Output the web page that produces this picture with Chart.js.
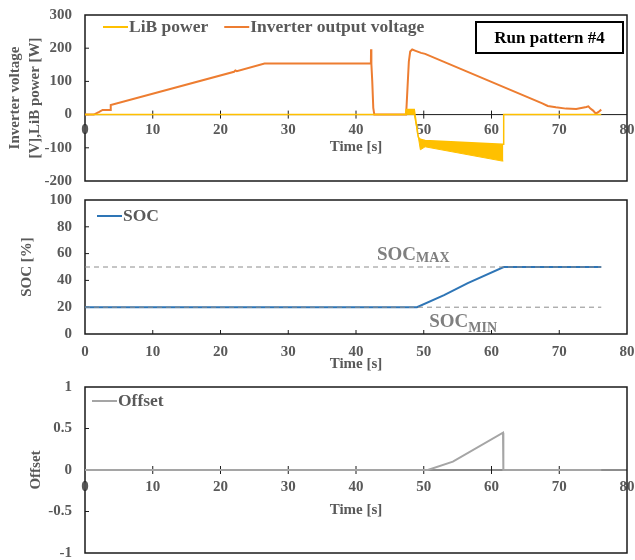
<!DOCTYPE html>
<html>
<head>
<meta charset="utf-8">
<script src="https://cdn.jsdelivr.net/npm/chart.js@4.4.1/dist/chart.umd.min.js"></script>
<style>
  html, body { margin: 0; padding: 0; background: #fff; }
  body { position: relative; width: 635px; height: 560px; overflow: hidden; }
  canvas { position: absolute; left: 0; }
  #powerChart { top: 0; }
  #socChart { top: 190px; }
  #offsetChart { top: 375px; }
</style>
</head>
<body>
<canvas id="powerChart" width="635" height="190"></canvas>
<canvas id="socChart" width="635" height="183"></canvas>
<canvas id="offsetChart" width="635" height="185"></canvas>
<script>
// tick labels
const timeTicks = [0, 10, 20, 30, 40, 50, 60, 70, 80];
const powerTicks = [-200, -100, 0, 100, 200, 300];
const socTicks = [0, 20, 40, 60, 80, 100];
const offsetTicks = [-1, -0.5, 0, 0.5, 1];

// LiB power, upper edge of the ripple band
const libTime = [0, 47.3, 47.4, 48.6, 49.2, 49.5, 50.2, 61.6, 61.75, 61.8, 76.2];
const libPower = [0, 0, 15, 15, -68, -74, -78, -89, -89, 0, 0];
// LiB power, lower edge of the ripple band
const libLowTime = [47.4, 48.6, 49.2, 49.5, 50.2, 61.6, 61.75];
const libPowerLow = [0, 0, -68, -106, -97, -140, -140];

// inverter output voltage
const invTime = [0, 1.3, 2.1, 2.6, 3.7, 3.8, 22.0, 22.2, 22.4, 26.5, 42.2, 42.22, 42.27, 42.4,
  42.55, 42.7, 47.4, 47.6, 47.8, 48.0, 48.3, 48.8, 49.6, 50.2, 67.5, 68.3, 69.5, 71, 72.5,
  74.0, 74.3, 74.6, 75.0, 75.4, 75.8, 76.2];
const inverterVoltage = [0, 0, 8, 14, 14, 29, 129, 133, 131, 154, 154, 197, 152, 100,
  20, 0, 0, 80, 160, 190, 196, 192, 186, 183, 34, 26, 22, 18, 17,
  23, 25, 18, 12, 3, 8, 15];

// state of charge and its limits
const socTime = [0, 49, 53, 56.5, 61.8, 76.2];
const socValues = [20, 20, 29, 38, 50, 50];
const socLimitTime = [0, 76.2];
const socMax = [50, 50];
const socMin = [20, 20];

// offset
const offsetTime = [0, 50.6, 54.3, 61.7, 61.75, 76.2];
const offsetValues = [0, 0, 0.1, 0.45, 0, 0];

const GREY = '#595959';
const SERIF = '"Liberation Serif", "Times New Roman", serif';
Chart.defaults.font.family = SERIF;
Chart.defaults.font.weight = 'bold';

const tickFont = { family: SERIF, size: 15, weight: 'bold' };
const pts = (xs, ys) => xs.map((x, i) => ({ x: x, y: ys[i] }));

function timeScale(position, height, pad) {
  return {
    type: 'linear', min: 0, max: 80, position: position,
    afterBuildTicks: s => { s.ticks = timeTicks.map(v => ({ value: v })); },
    afterFit: s => { s.height = height; s.paddingLeft = 0; s.paddingRight = 0; },
    grid: { display: false, drawTicks: false },
    border: { display: false },
    ticks: { color: GREY, font: tickFont, padding: pad, maxRotation: 0, autoSkip: false },
    title: { display: true, text: 'Time [s]', color: GREY, font: tickFont, padding: 0 }
  };
}

function valueScale(ticks, title, titlePad, lineHeight) {
  return {
    type: 'linear', min: ticks[0], max: ticks[ticks.length - 1],
    afterBuildTicks: s => { s.ticks = ticks.map(v => ({ value: v })); },
    afterFit: s => { s.width = 85; s.paddingTop = 0; s.paddingBottom = 0; },
    grid: { display: false, drawTicks: false },
    border: { display: false },
    ticks: { color: GREY, font: tickFont, padding: 13, autoSkip: false, callback: v => String(v) },
    title: {
      display: true, text: title, color: GREY,
      font: { family: SERIF, size: 15, weight: 'bold', lineHeight: lineHeight },
      padding: { top: titlePad, bottom: 0 }
    }
  };
}

// plot frame, zero axis and the little tick marks
const frame = {
  id: 'frame',
  beforeDatasetsDraw(chart, args, opts) {
    const { ctx, chartArea: a, scales: { x, y } } = chart;
    const axisY = y.getPixelForValue(opts.axisAt);
    ctx.save();
    ctx.strokeStyle = '#1a1a1a';
    ctx.lineWidth = 1.5;
    ctx.strokeRect(a.left, a.top, a.right - a.left, a.bottom - a.top);
    ctx.lineWidth = 1;
    ctx.beginPath();
    if (opts.axisAt > y.min) {
      ctx.moveTo(a.left, axisY);
      ctx.lineTo(a.right, axisY);
    }
    x.ticks.forEach(t => {
      if (t.value <= x.min || t.value >= x.max) return;
      const px = x.getPixelForValue(t.value);
      ctx.moveTo(px, axisY - 4);
      ctx.lineTo(px, opts.crossing ? axisY + 4 : axisY);
    });
    y.ticks.forEach(t => {
      if (t.value <= y.min || t.value >= y.max) return;
      const py = y.getPixelForValue(t.value);
      ctx.moveTo(a.left, py);
      ctx.lineTo(a.left + 4, py);
    });
    ctx.stroke();
    ctx.restore();
  }
};

// legend drawn inside the plot: short line then the label
const lineLegend = {
  id: 'lineLegend',
  afterDraw(chart, args, opts) {
    if (!opts.items) return;
    const { ctx, chartArea: a } = chart;
    let x = a.left + opts.dx;
    const y = a.top + opts.dy;
    ctx.save();
    ctx.font = 'bold 17.5px ' + SERIF;
    ctx.textBaseline = 'middle';
    opts.items.forEach(i => {
      const ds = chart.data.datasets[i];
      ctx.strokeStyle = ds.borderColor;
      ctx.lineWidth = 2;
      ctx.beginPath();
      ctx.moveTo(x, y);
      ctx.lineTo(x + 25, y);
      ctx.stroke();
      x += 26;
      ctx.fillStyle = GREY;
      ctx.fillText(ds.label, x, y);
      x += ctx.measureText(ds.label).width + 16;
    });
    ctx.restore();
  }
};

const badge = {
  id: 'badge',
  afterDraw(chart, args, opts) {
    if (!opts.text) return;
    const { ctx, chartArea: a } = chart;
    const w = 147, h = 31;
    const left = a.right - 4 - w, top = a.top + 7;
    ctx.save();
    ctx.fillStyle = '#fff';
    ctx.fillRect(left, top, w, h);
    ctx.strokeStyle = '#000';
    ctx.lineWidth = 2;
    ctx.strokeRect(left, top, w, h);
    ctx.fillStyle = '#000';
    ctx.font = 'bold 17px ' + SERIF;
    ctx.textAlign = 'center';
    ctx.textBaseline = 'middle';
    ctx.fillText(opts.text, left + w / 2, top + h / 2 + 1);
    ctx.restore();
  }
};

// SOC_MAX / SOC_MIN notes with subscripts
const limitNotes = {
  id: 'limitNotes',
  afterDatasetsDraw(chart, args, opts) {
    if (!opts.notes) return;
    const { ctx, scales: { x, y } } = chart;
    ctx.save();
    ctx.fillStyle = '#7f7f7f';
    ctx.textBaseline = 'alphabetic';
    opts.notes.forEach(n => {
      const px = x.getPixelForValue(n.t);
      const py = y.getPixelForValue(n.v);
      ctx.font = 'bold 19px ' + SERIF;
      ctx.fillText(n.main, px, py);
      const w = ctx.measureText(n.main).width;
      ctx.font = 'bold 14px ' + SERIF;
      ctx.fillText(n.sub, px + w, py + n.drop);
    });
    ctx.restore();
  }
};

const basePlugins = { legend: { display: false }, tooltip: { enabled: false } };

new Chart(document.getElementById('powerChart'), {
  type: 'line',
  data: {
    datasets: [
      { label: 'LiB power', data: pts(libTime, libPower), borderColor: '#FFC000',
        borderWidth: 1.5, pointRadius: 0, fill: false },
      { label: 'LiB power ripple', data: pts(libLowTime, libPowerLow), borderColor: '#FFC000',
        backgroundColor: '#FFC000', borderWidth: 1, pointRadius: 0, fill: 0 },
      { label: 'Inverter output voltage', data: pts(invTime, inverterVoltage), borderColor: '#ED7D31',
        borderWidth: 2, pointRadius: 0, fill: false }
    ]
  },
  options: {
    responsive: false, animation: false,
    layout: { padding: { left: 0, right: 8, top: 15, bottom: 9 } },
    scales: {
      x: timeScale({ y: 0 }, 42, 7),
      y: valueScale(powerTicks, ['Inverter voltage', '[V],LiB power [W]'], 5, 1.33)
    },
    plugins: Object.assign({}, basePlugins, {
      frame: { axisAt: 0, crossing: true },
      lineLegend: { items: [0, 2], dx: 18, dy: 12 },
      badge: { text: 'Run pattern #4' }
    })
  },
  plugins: [frame, lineLegend, badge]
});

new Chart(document.getElementById('socChart'), {
  type: 'line',
  data: {
    datasets: [
      { label: 'SOC', data: pts(socTime, socValues), borderColor: '#2E75B6',
        borderWidth: 2, pointRadius: 0, fill: false, order: 1 },
      { label: 'SOC max', data: pts(socLimitTime, socMax), borderColor: '#8c8c8c',
        borderWidth: 1, borderDash: [5, 4], pointRadius: 0, fill: false, order: 0 },
      { label: 'SOC min', data: pts(socLimitTime, socMin), borderColor: '#8c8c8c',
        borderWidth: 1, borderDash: [5, 4], pointRadius: 0, fill: false, order: 0 }
    ]
  },
  options: {
    responsive: false, animation: false,
    layout: { padding: { left: 0, right: 8, top: 10, bottom: 0 } },
    scales: {
      x: timeScale('bottom', 39, 9),
      y: valueScale(socTicks, 'SOC [%]', 18.5, 1.2)
    },
    plugins: Object.assign({}, basePlugins, {
      frame: { axisAt: 0, crossing: false },
      lineLegend: { items: [0], dx: 12, dy: 16 },
      limitNotes: { notes: [
        { main: 'SOC', sub: 'MAX', t: 43.1, v: 55.2, drop: 2 },
        { main: 'SOC', sub: 'MIN', t: 50.8, v: 5.2, drop: 5 }
      ] }
    })
  },
  plugins: [frame, lineLegend, limitNotes]
});

new Chart(document.getElementById('offsetChart'), {
  type: 'line',
  data: {
    datasets: [
      { label: 'Offset', data: pts(offsetTime, offsetValues), borderColor: '#A5A5A5',
        borderWidth: 2, pointRadius: 0, fill: false }
    ]
  },
  options: {
    responsive: false, animation: false,
    layout: { padding: { left: 0, right: 8, top: 12, bottom: 7 } },
    scales: {
      x: timeScale({ y: 0 }, 49, 8),
      y: valueScale(offsetTicks, 'Offset', 27, 1.2)
    },
    plugins: Object.assign({}, basePlugins, {
      frame: { axisAt: 0, crossing: true },
      lineLegend: { items: [0], dx: 7, dy: 14 }
    })
  },
  plugins: [frame, lineLegend]
});
</script>
</body>
</html>
